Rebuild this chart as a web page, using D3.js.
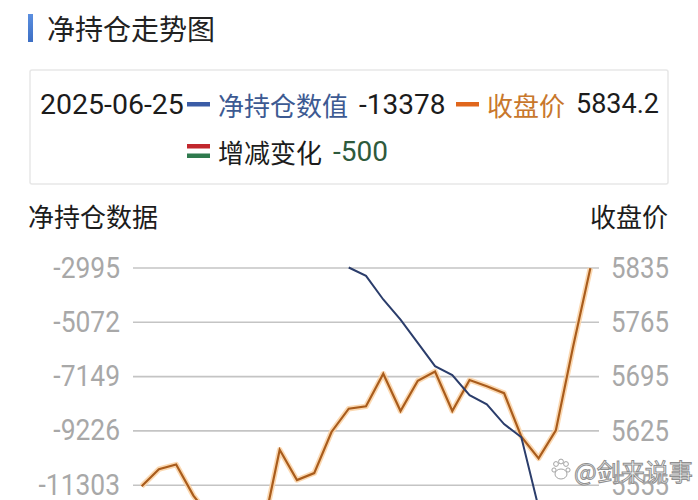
<!DOCTYPE html>
<html>
<head>
<meta charset="utf-8">
<script src="https://cdn.jsdelivr.net/npm/d3@7/dist/d3.min.js"></script>
<style>
  html, body { margin: 0; padding: 0; background: #fff; }
  svg { display: block; }
</style>
</head>
<body>
<script>
// ---------- DATA ----------
const dates = ["2025-05-19","2025-05-20","2025-05-21","2025-05-22","2025-05-23","2025-05-26","2025-05-27","2025-05-28","2025-05-29","2025-05-30",
  "2025-06-03","2025-06-04","2025-06-05","2025-06-06","2025-06-09","2025-06-10","2025-06-11","2025-06-12","2025-06-13","2025-06-16",
  "2025-06-17","2025-06-18","2025-06-19","2025-06-20","2025-06-23","2025-06-24","2025-06-25"];
const netPosition = [null,null,null,null,null,null,null,null,null,null,null,null,
  -2995,-3316,-4218,-4990,-5880,-6767,-7111,-7880,-8231,-8984,-9490,-12180,-12500,-12878,-13378];
const closePrice = [5553,5575,5581,5541,5512,5490,5505,5494,5600,5561,5570,5623,5653,5656,5698,5650,5689,5701,5650,5690,5682,5673,5617,5589,5625,5733,5834.2];
const leftTicks = [-2995,-5072,-7149,-9226,-11303];
const rightTicks = [5835,5765,5695,5625,5555];
const leftMin = -13380, rightMin = 5485;
const titleText = "净持仓走势图";
const legendDate = "2025-06-25";
const seriesNames = ["净持仓数值","收盘价","增减变化"];
const legendValues = ["-13378","5834.2","-500"];
const axisTitles = ["净持仓数据","收盘价"];
const watermark = "@剑来说事";

// ---------- LAYOUT ----------
const W = 698, H = 500;
const plotLeft = 133, plotRight = 599, plotTop = 267.5, gridStep = 54.3;
const plotBottom = plotTop + gridStep * 5;
const CJK = "'Noto Sans CJK SC', 'Noto Sans', sans-serif";
const MIX = "Roboto, 'Noto Sans CJK SC', sans-serif";

const svg = d3.select("body").append("svg").attr("width", W).attr("height", H);

// Title
svg.append("defs").append("linearGradient").attr("id","barg").attr("x1",0).attr("y1",0).attr("x2",0).attr("y2",1)
  .selectAll("stop").data([["0%","#5b8fe0"],["100%","#3d6fc4"]]).join("stop")
  .attr("offset",d=>d[0]).attr("stop-color",d=>d[1]);
svg.append("rect").attr("x",28).attr("y",14).attr("width",5).attr("height",28).attr("fill","url(#barg)");
svg.append("text").attr("x",47).attr("y",28).attr("dominant-baseline","central")
  .style("font-family",CJK).style("font-size","28px").attr("fill","#222").text(titleText);

// Legend box
svg.append("rect").attr("x",30).attr("y",70).attr("width",638).attr("height",114)
  .attr("fill","#fff").attr("stroke","#e7e7e7").attr("stroke-width",1.5).attr("rx",2);

const lg = svg.append("g").style("font-size","26px");
function lt(x,y,txt,color,fam){
  return lg.append("text").attr("x",x).attr("y",y).attr("dominant-baseline","central")
    .style("font-family",fam||MIX).attr("fill",color).text(txt);
}
const r1 = 104, r2 = 151;
lt(40,r1,legendDate,"#1c1c1c").style("font-size","28.5px");
lg.append("rect").attr("x",187).attr("y",r1-2).attr("width",23).attr("height",4.5).attr("fill","#3b5ca6");
lt(218,r1,seriesNames[0],"#3d5a92",CJK);
lt(359,r1,legendValues[0],"#1c1c1c").style("font-size","28px");
lg.append("rect").attr("x",456).attr("y",r1-2).attr("width",23).attr("height",4.5).attr("fill","#e0661c");
lt(487,r1,seriesNames[1],"#c8772c",CJK);
lt(576,r1,legendValues[1],"#1c1c1c").style("font-size","27px");
lg.append("rect").attr("x",187).attr("y",r2-7).attr("width",23).attr("height",4.5).attr("fill","#c1272d");
lg.append("rect").attr("x",187).attr("y",r2+2.5).attr("width",23).attr("height",4.5).attr("fill","#2f7a4e");
lt(218,r2,seriesNames[2],"#1c1c1c",CJK);
lt(333,r2,legendValues[2],"#2e5a3c").style("font-size","28px");

// Axis titles
svg.append("text").attr("x",28).attr("y",215).attr("dominant-baseline","central")
  .style("font-family",CJK).style("font-size","26px").attr("fill","#1c1c1c").text(axisTitles[0]);
svg.append("text").attr("x",668).attr("y",215).attr("dominant-baseline","central").attr("text-anchor","end")
  .style("font-family",CJK).style("font-size","26px").attr("fill","#1c1c1c").text(axisTitles[1]);

// Scales
const x = d3.scalePoint().domain(dates).range([plotLeft, plotRight]).padding(0.5);
const yL = d3.scaleLinear().domain([leftMin, leftTicks[0]]).range([plotBottom, plotTop]);
const yR = d3.scaleLinear().domain([rightMin, rightTicks[0]]).range([plotBottom, plotTop]);

// Grid lines via left axis
const gridAxis = d3.axisLeft(yL).tickValues(leftTicks.concat([leftMin])).tickSize(-(plotRight-plotLeft)).tickFormat("");
const gg = svg.append("g").attr("transform",`translate(${plotLeft},0)`).call(gridAxis);
gg.select(".domain").remove();
gg.selectAll(".tick line").attr("stroke","#c4c4c4").attr("stroke-width",1.6);

// Tick labels (condensed look)
const tickFont = "Roboto, 'DejaVu Sans', sans-serif";
svg.append("g").selectAll("g").data(leftTicks).join("g")
  .attr("transform",d=>`translate(120,${yL(d)})`)
  .append("text").attr("transform","scale(0.88,1)").attr("text-anchor","end").attr("dominant-baseline","central")
  .style("font-family",tickFont).style("font-size","30px").attr("fill","#a8a8a8")
  .text(d=>d);
svg.append("g").selectAll("g").data(rightTicks).join("g")
  .attr("transform",d=>`translate(611,${yR(d)})`)
  .append("text").attr("transform","scale(0.86,1)").attr("text-anchor","start").attr("dominant-baseline","central")
  .style("font-family",tickFont).style("font-size","30px").attr("fill","#a8a8a8")
  .text(d=>d);

// Lines
const priceLine = d3.line().x((d,i)=>x(dates[i])).y(d=>yR(d));
const netLine = d3.line().defined(d=>d!==null).x((d,i)=>x(dates[i])).y(d=>yL(d));

svg.append("path").datum(closePrice).attr("d",priceLine).attr("fill","none")
  .attr("stroke","#fbd4a8").attr("stroke-width",5.5).attr("stroke-linejoin","round").attr("opacity",0.9);
svg.append("path").datum(closePrice).attr("d",priceLine).attr("fill","none")
  .attr("stroke","#a95c1c").attr("stroke-width",2.2).attr("stroke-linejoin","miter");
svg.append("path").datum(netPosition).attr("d",netLine).attr("fill","none")
  .attr("stroke","#2b3d6b").attr("stroke-width",2).attr("stroke-linejoin","miter");

// Watermark
const wm = svg.append("g").attr("transform","translate(553,470)");
[[3,-6,2.4],[8,-8.5,2.4],[13,-6,2.4],[1,0,2.1],[15,0,2.1]].forEach(c=>{
  wm.append("circle").attr("cx",c[0]).attr("cy",c[1]).attr("r",c[2]).attr("fill","#fff").attr("stroke","#999").attr("stroke-width",0.9);
});
wm.append("ellipse").attr("cx",8).attr("cy",4).attr("rx",6).attr("ry",5).attr("fill","#fff").attr("stroke","#999").attr("stroke-width",0.9);
wm.append("text").attr("x",21).attr("y",0).attr("dominant-baseline","central")
  .style("font-family",CJK).style("font-size","24px").attr("fill","#fff").attr("stroke","#8f8f8f").attr("stroke-width",1)
  .text(watermark);
</script>
</body>
</html>
